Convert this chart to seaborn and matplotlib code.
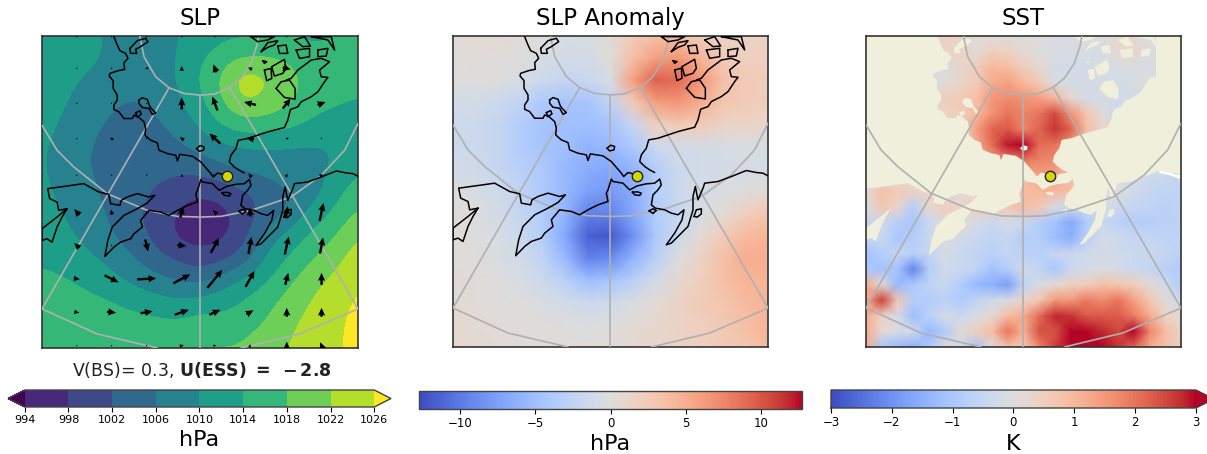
import numpy as np
import matplotlib
matplotlib.use('Agg')
import matplotlib.pyplot as plt
from matplotlib.colors import BoundaryNorm
import seaborn as sns

slp_levels = [994, 998, 1002, 1006, 1010, 1014, 1018, 1022, 1026]
slp = [
    [1012, 1012, 1011, 1009.5, 1008, 1008, 1010, 1011, 1013, 1013, 1014, 1013.5, 1013, 1014, 1015],
    [1012, 1012, 1011, 1009.5, 1008, 1008, 1010, 1013.5, 1016.5, 1018.5, 1018.5, 1017.5, 1015.5, 1015, 1015],
    [1012, 1011, 1009.5, 1008, 1007.5, 1008, 1010, 1014.5, 1019, 1025.5, 1022.5, 1019.5, 1016.5, 1015.5, 1015.5],
    [1011.5, 1010.5, 1008, 1006.5, 1005.5, 1006.5, 1009, 1013, 1018, 1022.5, 1020.5, 1018.5, 1015.5, 1014.5, 1013.5],
    [1011, 1009.5, 1007, 1005.5, 1004.5, 1005, 1007.5, 1010.5, 1014.5, 1016.5, 1016, 1015, 1013, 1012, 1012],
    [1010.5, 1009, 1006, 1005, 1004, 1004, 1005, 1007, 1009, 1010, 1010, 1009.5, 1009.5, 1010, 1011],
    [1010.5, 1008.5, 1006, 1005, 1005, 1003.5, 1003, 1003, 1005, 1006.5, 1007.5, 1008.5, 1008.5, 1010.5, 1013.5],
    [1011, 1009, 1007, 1005, 1003.5, 1001.5, 999.5, 998.5, 999.5, 1001.5, 1003.5, 1006, 1008, 1012.5, 1016.5],
    [1011.5, 1010, 1008, 1005.5, 1003, 1000.5, 997.5, 995.5, 996.5, 1000, 1003.5, 1006.5, 1012, 1015, 1019],
    [1012, 1011, 1009, 1006.5, 1004, 1001, 997, 996, 997, 1000.5, 1008, 1012, 1015, 1018, 1022.5],
    [1013.5, 1012.5, 1011, 1009, 1006.5, 1003.5, 1001.5, 999.5, 1001, 1004, 1011.5, 1014.5, 1018, 1021, 1024],
    [1015, 1014.5, 1013, 1011.5, 1009.5, 1007.5, 1006, 1005, 1008, 1011.5, 1014, 1017.5, 1021, 1023, 1025.5],
    [1016, 1016, 1015.5, 1014.5, 1013, 1012, 1011, 1012, 1013, 1014.5, 1017, 1020, 1022.5, 1024.5, 1027],
    [1016.5, 1016.5, 1016.5, 1016.5, 1016, 1015.5, 1015, 1016.5, 1015.5, 1017, 1018.5, 1021.5, 1023.5, 1025.5, 1027],
    [1017, 1017, 1017, 1017, 1017.5, 1017.5, 1018, 1018.5, 1018.5, 1018.5, 1020.5, 1022.5, 1024, 1025.5, 1027],
]
slp_anomaly = [
    [.5, .5, .5, .3, 0, -.5, -.3, .5, 2.5, 3.5, 3.5, 2, 1.5, 1.5, 1.5],
    [.3, .3, .2, 0, -.5, -1, -1, .3, 3.5, 6, 6.5, 4.5, 2.5, 2, 2],
    [0, 0, 0, -.5, -1.5, -2, -1.8, -.5, 6, 9.5, 9, 6.5, 3.5, 2.5, 2.2],
    [-1, -1, -1.5, -2.5, -4, -4.5, -4.5, -2.5, 2.5, 6, 6.5, 5, 3, 2.5, 2],
    [-1.5, -1.5, -2, -3.5, -4.5, -5, -5, -4.5, -2, 2, 2.5, 2.5, 1.5, 1.5, 1],
    [-1.5, -1.5, -2, -3.5, -4.5, -5, -6, -5.5, -4, -1.5, -1, -.8, -.5, -.3, -.5],
    [-1, -1.2, -2, -3, -4, -5.5, -6.5, -7, -6, -3.5, -1.5, -1, -.8, -.7, -.5],
    [0, -.5, -1.2, -2.5, -4, -5.5, -7.5, -8, -6.5, -3.5, -1.5, -.8, -.3, 0, .5],
    [.2, 0, -.8, -2, -3.5, -6, -9.5, -9.5, -7, -3.5, -2, -.5, .5, 2, 3],
    [.3, 0, -.5, -1.5, -3.5, -7, -11.5, -12, -8.5, -4, -1.5, .5, 2.5, 4, 4.5],
    [.3, .2, -.3, -1, -2.5, -5.5, -9.5, -9, -6, -3, 0, 1.5, 3.5, 5, 5],
    [.5, .2, 0, -.5, -1.5, -3, -5, -4.5, -3, -1, .8, 2, 3.5, 4.5, 4.5],
    [.5, .3, .2, 0, -.5, -1, -1.5, -1.2, -.3, .5, 1.5, 2.5, 3, 4, 4.5],
    [.8, .5, .3, .3, .2, 0, -.2, 0, .5, 1, 1.5, 2, 2.8, 3.5, 4.5],
    [1, .8, .5, .3, .3, .2, .2, .3, .8, 1.2, 1.5, 2, 2.5, 3, 4],
]
sst = [
    [0, 0, 0, 0, 0, .5, .3, 0, 0, 0, 0, 0, -.1, -.1, -.1, 0, .2, .2, 0, 0, 0],
    [0, 0, 0, 0, 0, .3, .4, .1, .5, .4, .2, 0, -.1, -.1, -.1, -.1, .2, .3, -.1, 0, 0],
    [0, 0, 0, 0, -.1, -.1, .3, .5, 1, .9, .5, .2, -.2, -.2, -.2, -.1, -.1, -.1, -.1, 0, 0],
    [0, 0, 0, 0, -.2, .1, .3, .6, 1.2, 1.4, 1, .6, -.1, -.2, -.2, -.2, -.2, -.1, 0, 0, 0],
    [0, 0, 0, 0, 0, .5, .6, .8, 1.5, 1.7, 1.6, 1.4, 1, .2, -.2, -.2, -.3, -.3, 0, 0, 0],
    [0, 0, 0, 0, 0, .4, .5, 1, 1.6, 2, 1.8, 2, 2.5, 1.6, .7, .1, -.4, 0, 0, 0, 0],
    [0, 0, 0, 0, 0, 0, 0, 1.4, 2.2, 2.3, 1.8, 2.2, 2.7, 2.2, .9, .3, 0, 0, 0, 0, 0],
    [0, 0, 0, 0, 0, 0, 0, 1.2, 2.1, 2.9, 3, 2.1, 2, 1.6, 0, 0, 0, 0, 0, 0, 0],
    [0, 0, 0, 0, 0, 0, 0, 0, 1.5, 1.7, 2, 1.8, 1.7, 0, 0, 0, 0, 0, 0, 0, 0],
    [0, 0, 0, 0, 0, 0, 0, 0, 0, 0, .8, 1.4, 1.4, 1, 0, 0, 0, -.2, -.3, -.4, -.5],
    [0, .8, .6, .4, .4, 0, 0, 0, 0, 0, .9, 1, 1, .8, 0, 0, 0, -.3, -.5, -.6, -.6],
    [0, .7, .3, -.8, .2, .6, .3, .6, .5, .7, .9, .7, -.2, -.3, -.2, -.1, -.4, -.5, -.6, -.7, -.6],
    [-.6, -.3, -.8, -1, -.4, 0, .2, -.2, -.4, -.2, -.4, -.8, -1.1, -1.6, -.9, -.4, -.7, -.8, -.8, -.7, -.7],
    [-.6, -.4, -1, -.8, -.4, 0, -.3, -.4, -.6, -.5, -.8, -.8, -1.2, -1.5, -.7, -.2, -.3, -.5, -.5, -.6, -.6],
    [-1.1, -.8, -.5, -.7, -.5, -.2, -.4, -.6, -.7, -.5, -.7, -.7, -.5, -.4, -.3, -.2, -.3, -.4, -.4, -.5, -.7],
    [-1, -1.1, -1.1, -2.2, -.8, -.3, -.4, -.6, -1.1, -.8, -.3, -.6, -1, -.4, -.2, -.1, -.2, -.4, -.5, -.7, -.9],
    [1.2, .2, -1.3, -.9, -.6, -.4, -.8, -1.3, -1.5, -1.8, -.6, -.1, .2, .4, .5, .8, .7, .5, .2, -.3, -.8],
    [1.2, 2.6, .7, -.8, -.8, -.7, -.9, -.6, -.3, -.1, .3, .7, 1.5, 1.5, 1.9, 1.7, 2, 1.4, .7, .1, -.4],
    [1.2, .4, -.2, -1.2, -.7, -.2, -.4, -.1, .2, .9, 1.2, 2.1, 2.8, 2.7, 2.3, 2.3, 2.3, 1.9, 1.2, .4, .1],
    [1.2, .2, -.1, -.3, -1.3, -.9, .1, .5, .9, 2, 1.1, 2.4, 2.4, 3, 3, 2.8, 2.5, 3, 1.8, .9, .4],
    [1.2, -1, -1.3, -1.5, -1, .1, -.3, -1.1, 0, .8, .6, 1.8, 2.6, 3, 3, 3, 2.7, 2.2, 1.2, .8, .5],
]

# Wind vectors on the SLP panel: grid in map units, components in pixels (right, up)
wind_x = [129, 233, 338, 443, 542, 647, 757, 861]
wind_y = [50, 145, 250, 355, 465, 575, 675, 775, 875, 975]
wind_u = [
    [0, 0, 0, 0, 0, 0, 0, 0],
    [.5, .5, -3, 0, -3, -4, 8, .5],
    [.5, -1, 0, 0, -5, -12, 8, 8],
    [.5, -3, .5, -4, -11, -8, -3, 1],
    [.5, .5, 0, 0, 3, -3, 2, 4],
    [-5, -1, -1, 3, -4, -1, 2, 4],
    [-5, .5, 3, 9, 8, 3, 4, 3],
    [6, 14, 19, 17, 15, 9, 3, 0],
    [5, 9, 12, 14, 11, 7, 0, 0],
    [.5, .5, 1, 4, 3, 1, 0, -3],
]
wind_v = [
    [0, 0, 0, 0, 0, 0, 0, 0],
    [0, 0, -1, 5, 8, 2, -2, 0],
    [0, 1, 0, 12, 14, 3, 10, 3],
    [0, 2, 0, 3, 10, 1, 0, 1],
    [0, 0, 0, 3, 1, 4, 3, 1],
    [6, 5, 3, 11, 4, 9, 12, 18],
    [5, 0, -12, -1, 15, 17, 18, 16],
    [-1, -7, 1, 9, 18, 16, 12, 12],
    [-1, -1, 2, 5, 5, 4, 9, 9],
    [0, 0, 1, 1, 0, 3, 8, 7],
]

# Coastlines in map units (x, y)
coast_siberia = [(240, 50), (250, 75), (258, 92), (275, 100), (282, 115), (270, 128), (272, 148), (252, 152),
                 (228, 160), (226, 168), (238, 182), (238, 205), (250, 225), (250, 240), (240, 255), (240, 268),
                 (255, 275), (270, 295), (295, 295), (300, 285), (315, 292), (330, 305), (335, 325), (333, 345),
                 (350, 360), (370, 368), (375, 390), (400, 400), (425, 405), (430, 422), (437, 402), (475, 408),
                 (500, 425), (530, 460), (537, 470), (550, 458), (565, 462), (578, 468)]
coast_arctic = [(630, 458), (615, 450), (600, 440), (585, 425), (590, 405), (605, 385), (612, 360), (640, 355),
                (670, 345), (700, 335), (750, 322), (760, 300), (768, 268), (790, 260), (800, 245), (830, 230),
                (850, 215), (870, 185), (880, 172), (860, 170), (855, 150), (885, 125), (860, 115), (830, 120),
                (790, 150), (770, 175), (755, 180)]
coast_strait = [(500, 478), (505, 485), (535, 490), (555, 510), (578, 498), (605, 492), (630, 490), (645, 478)]
coast_alaska = [(645, 478), (650, 495), (640, 510), (625, 525), (620, 555), (632, 565), (660, 570), (680, 580),
                (700, 585), (718, 570), (712, 600), (690, 640), (665, 675), (680, 670), (700, 650), (730, 620),
                (745, 570), (745, 530), (752, 500), (760, 540), (775, 505), (780, 490), (820, 485), (860, 470),
                (905, 452), (935, 458), (955, 460), (970, 468)]
coast_south = [(500, 478), (490, 510), (485, 520), (490, 545), (460, 555), (430, 570), (405, 585), (380, 575),
               (345, 570), (320, 600), (325, 620), (300, 640), (290, 655), (260, 665), (240, 680), (213, 708),
               (222, 660), (235, 620), (270, 585), (310, 565), (340, 548), (362, 525), (345, 530), (310, 520),
               (280, 530), (262, 540), (258, 555), (230, 550), (225, 522), (195, 515), (150, 490), (100, 497),
               (42, 505)]
coast_west = [(42, 505), (48, 535), (70, 545), (75, 570), (100, 565)]
peninsula = [(100, 565), (85, 590), (70, 620), (55, 665), (40, 655), (25, 660), (25, 625), (70, 590), (100, 565)]
islands = [
    [(288, 85), (310, 62), (335, 55), (342, 65), (320, 80), (305, 88), (308, 100), (290, 100), (288, 85)],
    [(315, 240), (325, 233), (340, 238), (347, 258), (352, 265), (365, 278), (355, 283), (345, 265), (325, 262), (315, 250), (315, 240)],
    [(305, 278), (318, 272), (322, 282), (310, 290), (305, 278)],
    [(563, 517), (578, 516), (590, 520), (585, 527), (570, 525), (563, 517)],
    [(613, 573), (625, 567), (635, 572), (625, 581), (613, 573)],
    [(748, 590), (755, 570), (770, 567), (770, 582), (758, 592), (748, 590)],
    [(725, 205), (740, 185), (765, 180), (782, 205), (782, 237), (750, 232), (725, 205)],
    [(690, 150), (710, 145), (712, 175), (697, 182), (690, 150)],
    [(712, 140), (750, 118), (755, 145), (745, 160), (720, 168), (712, 140)],
    [(680, 95), (700, 82), (720, 75), (730, 62), (700, 68), (680, 95)],
    [(730, 78), (755, 75), (760, 100), (735, 100), (730, 78)],
    [(780, 60), (810, 50), (828, 78), (805, 80), (780, 60)],
    [(785, 90), (825, 85), (825, 110), (795, 115), (785, 90)],
    [(850, 90), (880, 85), (875, 108), (850, 110), (850, 90)],
    [(650, 50), (670, 65), (700, 60), (720, 50), (650, 50)],
    [(830, 50), (880, 60), (900, 90), (890, 50), (830, 50)],
    [(685, 122), (697, 125), (690, 130), (685, 122)],
]
lake = [(487, 385), (498, 376), (510, 380), (508, 390), (495, 393), (487, 385)]
no_data = [(905, 452), (935, 458), (970, 468), (970, 478), (935, 466), (905, 460)]

# Graticule, map units
arc_north = [(318, 50), (330, 110), (365, 170), (405, 203), (450, 220), (497, 225), (540, 222), (585, 203),
             (620, 175), (650, 130), (668, 75), (672, 50)]
arc_mid = [(25, 315), (70, 390), (120, 440), (220, 520), (340, 570), (430, 588), (500, 590), (560, 588),
           (650, 570), (770, 530), (860, 465), (930, 390), (970, 310)]
arc_south_w = [(25, 865), (190, 940), (370, 982)]
arc_south_e = [(620, 982), (795, 940), (970, 865)]
meridians = [[(497, 225), (497, 982)], [(405, 203), (25, 865)], [(587, 203), (970, 865)]]
station = (578, 468)

slp_ticks = slp_levels
anomaly_ticks = [-10, -5, 0, 5, 10]
sst_ticks = [-3, -2, -1, 0, 1, 2, 3]

sns.set_theme(style='ticks', rc={'text.color': 'black', 'axes.labelcolor': 'black',
                                 'xtick.color': 'black', 'axes.edgecolor': '#333333'})
plt.rcParams['font.family'] = 'DejaVu Sans'

W, H = 1207, 454
fig = plt.figure(figsize=(W / 100, H / 100), dpi=100)


def box(left, top, right, bottom):
    return [left / W, 1 - bottom / H, (right - left) / W, (bottom - top) / H]


def line(ov, pts, **kw):
    xs, ys = zip(*pts)
    ov.plot(xs, ys, **kw)


def overlay(pos, draw_coast=True):
    ov = fig.add_axes(pos, facecolor='none')
    ov.set_xlim(25, 970)
    ov.set_ylim(982, 48)
    ov.set_xticks([])
    ov.set_yticks([])
    for s in ov.spines.values():
        s.set_visible(True)
        s.set_linewidth(1.2)
    gr = dict(color='#b0b0b0', lw=1.2, zorder=3)
    for g in [arc_north, arc_mid, arc_south_w, arc_south_e] + meridians:
        line(ov, g, **gr)
    if draw_coast:
        k = dict(color='black', lw=1.1, zorder=4)
        for c in [coast_siberia, coast_arctic, coast_strait, coast_alaska, coast_south, coast_west, peninsula, lake] + islands:
            line(ov, c, **k)
    ov.plot(*station, 'o', ms=7.5, mfc='#d6d600', mec='#222222', mew=1, zorder=6)
    return ov


def finish_cbar(ax, label, pad=1, size=8.5):
    cb = ax.collections[0].colorbar
    cb.outline.set_linewidth(1)
    cb.outline.set_edgecolor('#444444')
    cb.ax.tick_params(labelsize=size, length=3.5, width=0.8, pad=2)
    cb.set_label(label, fontsize=16, labelpad=pad)


# --- SLP ---
ax1 = fig.add_axes(box(42, 36, 358, 348))
cax1 = fig.add_axes(box(8, 390, 391, 407))
slp_norm = BoundaryNorm(slp_levels, 10, extend='both')
viridis10 = plt.get_cmap('viridis', 10)
sns.heatmap(np.array(slp), ax=ax1, cmap=viridis10, norm=slp_norm, cbar_ax=cax1,
            xticklabels=False, yticklabels=False,
            cbar_kws=dict(orientation='horizontal', extend='both', extendfrac=0.048, ticks=slp_ticks))
ax1.imshow(np.array(slp), cmap=viridis10, norm=slp_norm, interpolation='bicubic',
           interpolation_stage='data', aspect='auto', zorder=2)
ax1.set_xlim(0, 14)
ax1.set_ylim(14, 0)
ax1.set_title('SLP', fontsize=16.5, pad=8)
finish_cbar(ax1, 'hPa', pad=4, size=8)
ov1 = overlay(box(42, 36, 358, 348))
qx, qy = np.meshgrid(wind_x, wind_y)
ov1.quiver(qx, qy, np.array(wind_u), np.array(wind_v), angles='uv', scale_units='dots', scale=1,
           units='dots', width=2.4, headwidth=3.0, headlength=3.3, headaxislength=3.0,
           minlength=0.6, pivot='mid', color='black', zorder=5)
fig.text(202 / W, 1 - 370 / H, r'V(BS)= 0.3, $\mathbf{U(ESS)\ =\ -2.8}$', fontsize=12.5, color='#222222',
         ha='center', va='center')

# --- SLP anomaly ---
ax2 = fig.add_axes(box(453, 36, 768, 347))
cax2 = fig.add_axes(box(419, 391, 802, 409))
sns.heatmap(np.array(slp_anomaly), ax=ax2, cmap='coolwarm', vmin=-12.7, vmax=12.7, cbar_ax=cax2,
            xticklabels=False, yticklabels=False, shading='gouraud',
            cbar_kws=dict(orientation='horizontal', ticks=anomaly_ticks))
ax2.set_xlim(0, 14)
ax2.set_ylim(14, 0)
ax2.set_title('SLP Anomaly', fontsize=16.5, pad=8)
finish_cbar(ax2, 'hPa', pad=3)
overlay(box(453, 36, 768, 347))

# --- SST ---
ax3 = fig.add_axes(box(866, 36, 1181, 347))
cax3 = fig.add_axes(box(831, 390, 1214, 408))
sns.heatmap(np.array(sst), ax=ax3, cmap='coolwarm', vmin=-3, vmax=3, cbar_ax=cax3,
            xticklabels=False, yticklabels=False, shading='gouraud',
            cbar_kws=dict(orientation='horizontal', extend='max', extendfrac=0.05, ticks=sst_ticks))
ax3.set_xlim(0, 20)
ax3.set_ylim(20, 0)
ax3.set_title('SST', fontsize=16.5, pad=8)
finish_cbar(ax3, 'K', pad=4)
ov3 = overlay(box(866, 36, 1181, 347), draw_coast=False)
land = '#f0efdc'
west_land = [(25, 48)] + coast_siberia + [(630, 458), (645, 478)] + coast_strait[::-1] + coast_south[1:] + [(25, 505)]
east_land = coast_arctic[:19] + [(895, 172), (895, 48), (970, 48)] + coast_alaska[::-1]
for poly in [west_land, east_land, peninsula] + islands:
    xs, ys = zip(*poly)
    ov3.fill(xs, ys, color=land, lw=0, zorder=2)
for poly in [lake, no_data]:
    xs, ys = zip(*poly)
    ov3.fill(xs, ys, color='white', lw=0, zorder=2)

fig.savefig('out.png', dpi=100)
